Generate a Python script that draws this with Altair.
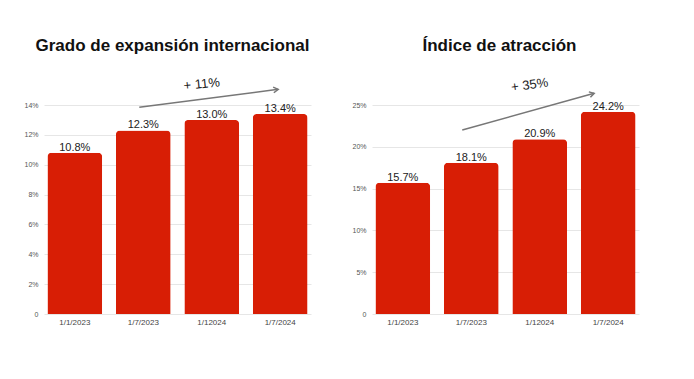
import altair as alt
import pandas as pd

periods = ["1/1/2023", "1/7/2023", "1/12024", "1/7/2024"]
expansion = [10.8, 12.3, 13.0, 13.4]
atraccion = [15.7, 18.1, 20.9, 24.2]

titles = ["Grado de expansión internacional", "Índice de atracción"]
growth_labels = ["+ 11%", "+ 35%"]
# arrow start / end and growth-label position, in data units
arrow_left = {"x": "1/7/2023", "y": 13.85, "x2": "1/7/2024", "y2": 15.05, "tx": "1/12024", "ty": 15.4}
arrow_right = {"x": "1/7/2023", "y": 22.0, "x2": "1/7/2024", "y2": 26.4, "tx": "1/12024", "ty": 27.4}

RED = "#D81E05"
FONT = "Liberation Sans"


def panel(values, title, domain, ticks, arrow, glabel, offs, angles, title_dx):
    df = pd.DataFrame({"period": periods, "value": values,
                       "label": [f"{v:.1f}%" for v in values]})
    xscale = alt.Scale(domain=periods, paddingInner=0.2, paddingOuter=0.05)
    xaxis = alt.Axis(labelAngle=0, labelFontSize=8, labelColor="#444",
                     ticks=False, domain=False, labelPadding=4,
                     labelFont=FONT, grid=False)
    yscale = alt.Scale(domain=domain, nice=False)
    yaxis = alt.Axis(values=ticks, labelFontSize=7, labelColor="#555",
                     domain=False, ticks=False, gridColor="#e6e6e6",
                     labelExpr="datum.value == 0 ? '0' : datum.value + '%'",
                     minExtent=35, maxExtent=35, labelPadding=6,
                     labelFont=FONT, labelOverlap=False)

    def X(f):
        return alt.X(f, scale=xscale, axis=xaxis, title=None)

    def Y(f):
        return alt.Y(f, scale=yscale, axis=yaxis, title=None)

    base = alt.Chart(df)
    bars = base.mark_bar(color=RED, cornerRadiusTopLeft=4,
                         cornerRadiusTopRight=4).encode(x=X("period:N"), y=Y("value:Q"))
    text = base.mark_text(baseline="alphabetic", dy=-2, fontSize=11,
                          color="#222", font=FONT).encode(
        x=X("period:N"), y=Y("value:Q"), text="label:N")

    adf = pd.DataFrame([arrow])
    rule = alt.Chart(adf).mark_rule(color="#777", strokeWidth=1.5,
                                    xOffset=offs[0], x2Offset=offs[1]).encode(
        x=X("x:N"), x2="x2:N", y=Y("y:Q"), y2="y2:Q")
    head = alt.Chart(adf).mark_point(shape="M-1,-0.6L0,0L-1,0.6", filled=False,
                                     color="#777", strokeWidth=1.5, size=90,
                                     angle=angles[0], xOffset=offs[1],
                                     opacity=1).encode(
        x=X("x2:N"), y=Y("y2:Q"))
    gtext = alt.Chart(adf).mark_text(fontSize=13, color="#222", font=FONT,
                                     angle=angles[1], xOffset=offs[2]).encode(
        x=X("tx:N"), y=Y("ty:Q"), text=alt.value(glabel))

    return alt.layer(bars, text, rule, head, gtext).properties(
        width=267, height=209,
        view=alt.ViewBackground(stroke="transparent"),
        title=alt.TitleParams(title, fontSize=17, font=FONT, fontWeight="bold",
                              color="#111", anchor="middle", offset=21,
                              dx=title_dx))


left = panel(expansion, titles[0], [0, 14], [0, 2, 4, 6, 8, 10, 12, 14],
             arrow_left, growth_labels[0], (-4, -2, -10), (353, 354), -5)
right = panel(atraccion, titles[1], [0, 25], [0, 5, 10, 15, 20, 25],
              arrow_right, growth_labels[1], (-9, -14, -10), (344, 352), -6)

chart = alt.hconcat(left, right, spacing=24).properties(
    padding={"left": 0, "top": 28, "right": 0, "bottom": 0}
).configure_view(strokeWidth=0, stroke="transparent").configure(background="white")

chart.save("out.html", embed_options={"renderer": "svg", "actions": False})
